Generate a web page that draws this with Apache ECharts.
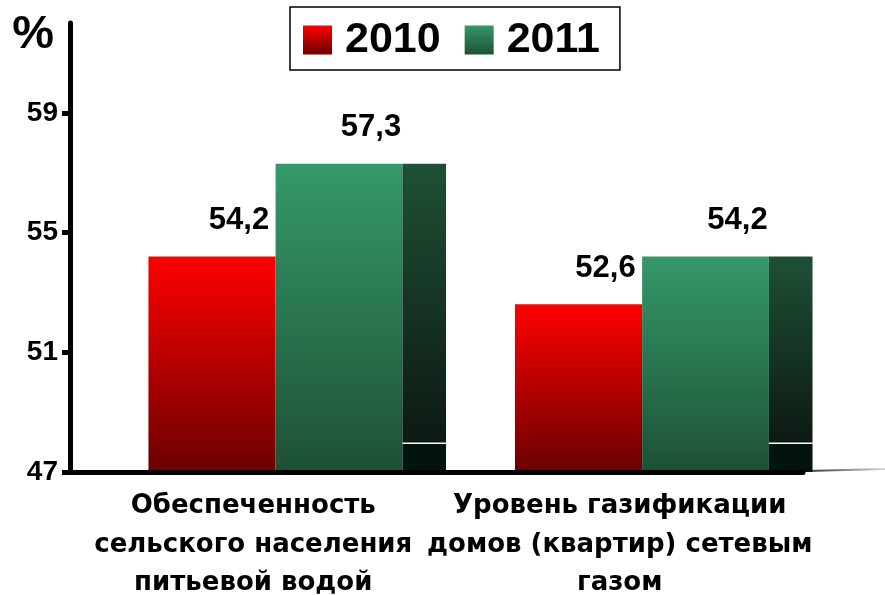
<!DOCTYPE html>
<html><head><meta charset="utf-8">
<script src="https://cdn.jsdelivr.net/npm/echarts@6/dist/echarts.min.js"></script>
<style>html,body{margin:0;padding:0;background:#fff}#c{width:885px;height:595px}</style>
</head><body><div id="c"></div>
<script>
// ---- data ----
const categories = ['Обеспеченность\nсельского населения\nпитьевой водой', 'Уровень газификации\nдомов (квартир) сетевым\nгазом'];
const seriesNames = ['2010', '2011'];
const values2010 = [54.2, 52.6];
const values2011 = [57.3, 54.2];
const yTicks = [47, 51, 55, 59];
const yMin = 47;
const yMax = 62;

// ---- styling ----
const G = echarts.graphic;
const redGrad = new G.LinearGradient(0, 0, 0, 1, [{offset: 0, color: '#ff0000'}, {offset: 1, color: '#6a0000'}]);
const greenGrad = new G.LinearGradient(0, 0, 0, 1, [{offset: 0, color: '#35996a'}, {offset: 1, color: '#1d5035'}]);
const sideGrad = new G.LinearGradient(0, 0, 0, 1, [{offset: 0, color: '#1e5036'}, {offset: 1, color: '#0d1912'}]);
const RED_L = -0.286, GREEN_L = 0.061, GREEN_R = 0.407, SIDE_R = 0.526;
const FONT = '"Liberation Sans", Arial, sans-serif';

function fmt(v) { return String(v).replace('.', ','); }

function makeRender(kind) {
  return function (params, api) {
    const cat = api.value(0), v = api.value(1);
    const top = api.coord([cat, v]);
    const bot = api.coord([cat, yMin]);
    const band = api.size([1, 0])[0];
    const cx = top[0];
    const children = [];
    let l, r;
    if (kind === 0) { l = cx + band * RED_L; r = cx + band * GREEN_L; }
    else { l = cx + band * GREEN_L; r = cx + band * GREEN_R; }
    children.push({type: 'rect', shape: {x: l, y: top[1], width: r - l, height: bot[1] - top[1]},
      style: {fill: kind === 0 ? redGrad : greenGrad}});
    if (kind === 1) {
      const sr = cx + band * SIDE_R;
      const lineY = bot[1] - 29;
      children.push({type: 'rect', shape: {x: r, y: top[1], width: sr - r, height: lineY - top[1]}, style: {fill: sideGrad}});
      children.push({type: 'rect', shape: {x: r, y: lineY, width: sr - r, height: bot[1] - lineY}, style: {fill: '#03140f'}});
      children.push({type: 'rect', shape: {x: r, y: lineY - 0.5, width: sr - r, height: 1.5}, style: {fill: '#ffffff'}});
    }
    children.push({type: 'text', style: {text: fmt(v), x: (l + r) / 2 + (kind === 0 ? 27 : 32), y: top[1] - 36,
      align: 'center', verticalAlign: 'middle', fill: '#000', font: 'bold 31px ' + FONT}});
    return {type: 'group', children: children};
  };
}

const chart = echarts.init(document.getElementById('c'));
chart.setOption({
  animation: false,
  grid: {left: 70, right: 82, top: 23, bottom: 123, containLabel: false, outerBoundsMode: 'none'},
  legend: {
    left: 290, top: 7,
    padding: [11, 20, 8, 13],
    borderColor: '#000', borderWidth: 1.5,
    itemWidth: 29, itemHeight: 29, itemGap: 24, icon: 'rect',
    selectedMode: false,
    textStyle: {fontSize: 43, fontWeight: 'bold', color: '#000', fontFamily: FONT, padding: [0, 0, 0, 8], lineHeight: 44},
    data: [{name: seriesNames[0], itemStyle: {color: redGrad}}, {name: seriesNames[1], itemStyle: {color: greenGrad}}]
  },
  xAxis: {
    type: 'category', data: categories, z: 5,
    axisLine: {lineStyle: {color: '#000', width: 5, cap: 'round'}},
    axisTick: {length: 8, lineStyle: {color: '#000', width: 5}},
    axisLabel: {interval: 0, color: '#000', fontSize: 26, fontWeight: 'bold', fontFamily: '"DejaVu Sans", sans-serif', lineHeight: 38.5, margin: 15}
  },
  yAxis: {
    type: 'value', min: yMin, max: yMax, interval: 4, z: 5,
    name: '%', nameLocation: 'end', nameGap: -12,
    nameTextStyle: {fontSize: 47, fontWeight: 'bold', color: '#000', fontFamily: FONT, align: 'right', verticalAlign: 'middle', padding: [0, 16, 0, 0]},
    splitLine: {show: false},
    axisLine: {show: true, lineStyle: {color: '#000', width: 5, cap: 'round'}},
    axisTick: {show: true, length: 8, customValues: yTicks, lineStyle: {color: '#000', width: 5}},
    axisLabel: {customValues: yTicks, color: '#000', fontSize: 28, fontWeight: 'bold', fontFamily: FONT, margin: 12}
  },
  series: [
    {name: seriesNames[0], type: 'custom', itemStyle: {color: redGrad}, renderItem: makeRender(0),
      encode: {x: 0, y: 1}, data: values2010.map((v, i) => [i, v])},
    {name: seriesNames[1], type: 'custom', itemStyle: {color: greenGrad}, renderItem: makeRender(1),
      encode: {x: 0, y: 1}, data: values2011.map((v, i) => [i, v])}
  ],
  graphic: [{type: 'line', silent: true, shape: {x1: 806, y1: 471, x2: 885, y2: 469},
    style: {lineWidth: 2, stroke: new G.LinearGradient(0, 0, 1, 0, [{offset: 0, color: '#333'}, {offset: 1, color: '#ddd'}])}}]
});
</script>
</body></html>
